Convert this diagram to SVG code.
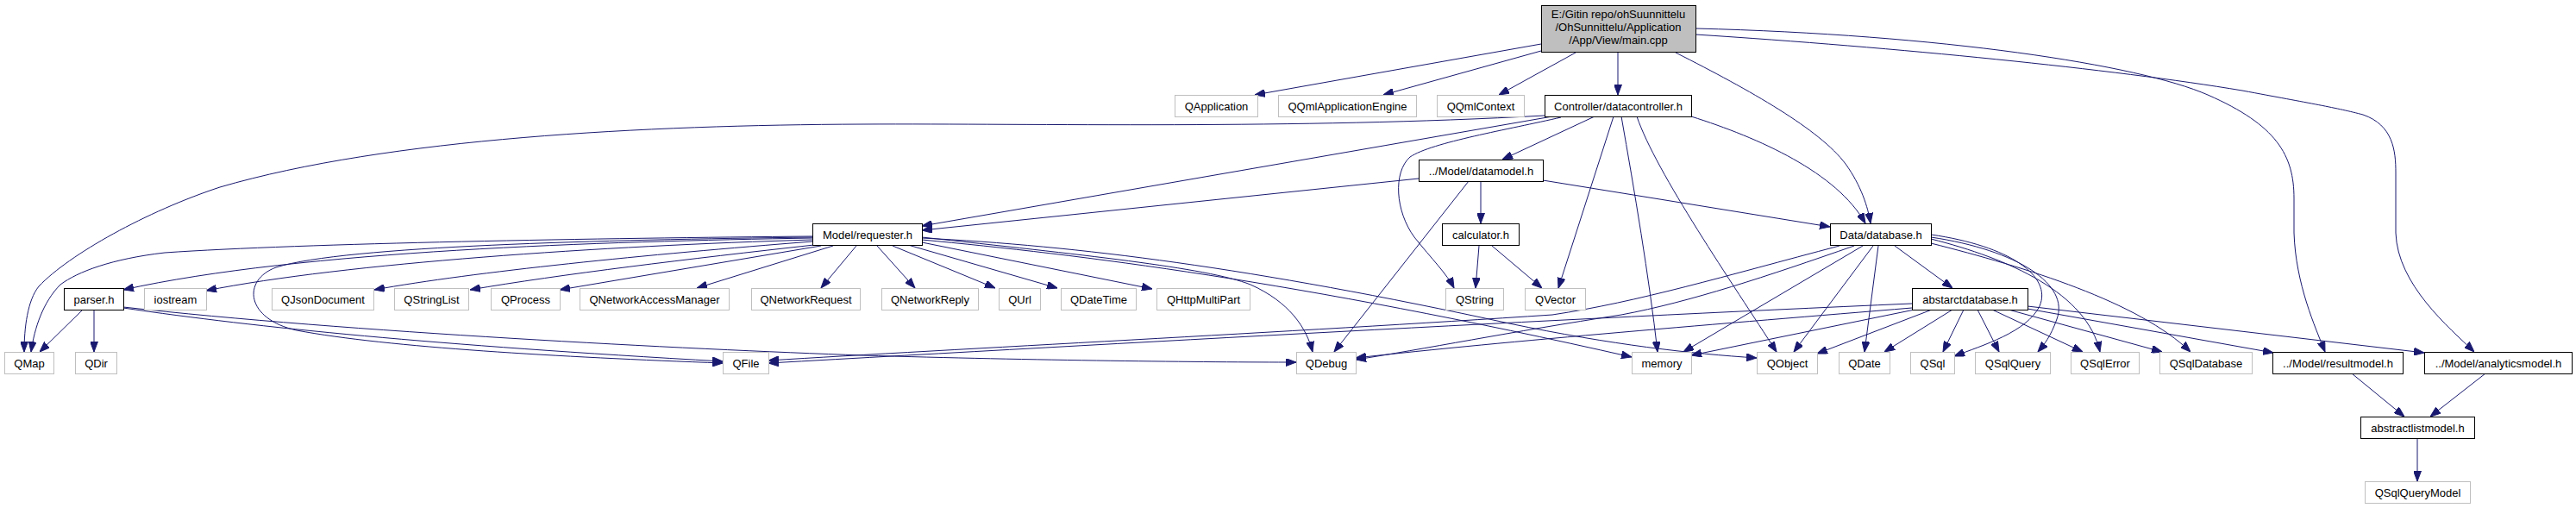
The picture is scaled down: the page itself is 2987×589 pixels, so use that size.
<svg xmlns="http://www.w3.org/2000/svg" width="2987" height="589" viewBox="0 0 2987 589">
<style>
text{font-family:"Liberation Sans",Arial,sans-serif;font-size:13px;fill:#000;text-anchor:middle}
.g rect{fill:#fff;stroke:#bfbfbf;stroke-width:1}
.b rect{fill:#fff;stroke:#000;stroke-width:1}
.m rect{fill:#bfbfbf;stroke:#000;stroke-width:1}
#edges path{fill:none;stroke:#191970;stroke-width:1;marker-end:url(#arr)}
</style>
<defs>
<marker id="arr" markerUnits="userSpaceOnUse" markerWidth="12" markerHeight="9" refX="12" refY="4.5" orient="auto">
<path d="M0,0 L12,4.5 L0,9 z" fill="#191970" stroke="#191970" stroke-width="1"/>
</marker>
</defs>
<rect width="2987" height="589" fill="#fff"/>
<g id="edges">
<path d="M1787,51 L1455,110"/>
<path d="M1787,59 L1604,110"/>
<path d="M1827,61 L1738,110"/>
<path d="M1876,61 L1876,110"/>
<path d="M1943,61 C2030,105 2110,150 2140,190 C2158,215 2166,240 2169,259"/>
<path d="M1966,33 C2250,40 2480,75 2560,110 C2640,145 2660,180 2660,230 L2660,270 C2662,330 2685,380 2696,408"/>
<path d="M1966,40 C2200,55 2450,80 2600,105 C2680,120 2710,125 2740,133 C2775,145 2778,175 2778,200 L2778,270 C2780,330 2840,380 2869,408"/>
<path d="M1791,134 C1500,150 1200,143 1000,144 C750,145 450,160 255,217 C170,245 80,295 45,332 C32,348 28,380 28,408"/>
<path d="M1800,135 L1069,262"/>
<path d="M1849,135 L1742,185"/>
<path d="M1810,136 C1750,150 1660,165 1635,182 C1615,200 1618,245 1640,275 C1660,300 1678,318 1686,334"/>
<path d="M1871,135 L1807,334"/>
<path d="M1880,135 C1895,220 1912,320 1922,408"/>
<path d="M1898,135 C1920,200 2010,330 2060,408"/>
<path d="M1961,135 C2040,160 2130,200 2163,259"/>
<path d="M1645,207 L1069,267"/>
<path d="M1703,210 L1547,408"/>
<path d="M1717,210 L1717,259"/>
<path d="M1789,209 L2122,263"/>
<path d="M1715,285 L1711,334"/>
<path d="M1730,285 L1788,334"/>
<path d="M942,274 C700,276 350,282 191,293 C130,300 90,315 70,330 C50,350 40,380 36,408"/>
<path d="M942,276 C700,280 350,290 143,336"/>
<path d="M942,278 C700,285 400,305 239,337"/>
<path d="M942,280 C750,295 550,315 434,336"/>
<path d="M944,284 C800,300 650,318 545,336"/>
<path d="M952,285 L649,336"/>
<path d="M966,285 L808,334"/>
<path d="M993,285 L952,334"/>
<path d="M1017,285 L1061,334"/>
<path d="M1035,285 L1154,334"/>
<path d="M1053,284 L1226,334"/>
<path d="M1069,281 L1336,335"/>
<path d="M1069,275 C1250,295 1400,310 1450,330 C1495,350 1515,380 1522,408"/>
<path d="M1069,278 C1250,295 1500,325 1892,414"/>
<path d="M1069,276 C1250,285 1450,310 1750,375 C1870,400 1960,410 2037,415"/>
<path d="M942,275 C700,278 400,285 320,310 C280,325 285,370 344,383 C450,403 650,414 838,421"/>
<path d="M96,359 L46,408"/>
<path d="M109,359 L109,408"/>
<path d="M143,357 C300,380 500,400 838,419"/>
<path d="M143,356 C400,385 800,405 1000,412 C1200,418 1400,420 1503,420"/>
<path d="M2133,285 C2000,320 1900,350 1800,365 C1500,385 1100,405 891,418"/>
<path d="M2150,285 C2050,320 1960,350 1880,365 C1750,385 1650,405 1572,417"/>
<path d="M2160,285 L1952,408"/>
<path d="M2172,285 L2080,408"/>
<path d="M2178,285 L2162,408"/>
<path d="M2197,285 L2264,334"/>
<path d="M2239,272 C2330,285 2380,320 2365,355 C2350,385 2300,400 2266,413"/>
<path d="M2239,275 C2340,290 2400,330 2385,370 C2378,390 2370,400 2363,408"/>
<path d="M2239,277 C2330,300 2420,340 2435,408"/>
<path d="M2239,282 C2350,310 2480,350 2540,408"/>
<path d="M2217,352 C1800,370 1300,398 891,421"/>
<path d="M2217,357 C2000,375 1750,395 1572,415"/>
<path d="M2220,359 L1961,412"/>
<path d="M2240,359 L2107,410"/>
<path d="M2264,359 L2185,408"/>
<path d="M2277,359 L2253,408"/>
<path d="M2293,359 L2318,408"/>
<path d="M2310,359 L2415,408"/>
<path d="M2329,359 L2507,408"/>
<path d="M2351,358 L2636,409"/>
<path d="M2351,355 L2811,409"/>
<path d="M2727,433 L2788,483"/>
<path d="M2882,433 L2818,483"/>
<path d="M2803,508 L2803,558"/>
</g>
<g id="main" class="m"><rect x="1787.5" y="6.5" width="179" height="54"/><text x="1876.5" y="21">E:/Gitin repo/ohSuunnittelu</text><text x="1876.5" y="36">/OhSunnittelu/Application</text><text x="1876.5" y="51">/App/View/main.cpp</text></g>
<g id="QApplication" class="g"><rect x="1362.5" y="110.5" width="96" height="25"/><text x="1410.5" y="127.5">QApplication</text></g>
<g id="QQmlApplicationEngine" class="g"><rect x="1482.5" y="110.5" width="160" height="25"/><text x="1562.5" y="127.5">QQmlApplicationEngine</text></g>
<g id="QQmlContext" class="g"><rect x="1666.5" y="110.5" width="101" height="25"/><text x="1717" y="127.5">QQmlContext</text></g>
<g id="datacontroller" class="b"><rect x="1791.5" y="110.5" width="170" height="25"/><text x="1876.5" y="127.5">Controller/datacontroller.h</text></g>
<g id="datamodel" class="b"><rect x="1645.5" y="185.5" width="144" height="25"/><text x="1717.5" y="202.5">../Model/datamodel.h</text></g>
<g id="requester" class="b"><rect x="942.5" y="259.5" width="127" height="25"/><text x="1006" y="276.5">Model/requester.h</text></g>
<g id="calculator" class="b"><rect x="1672.5" y="259.5" width="89" height="25"/><text x="1717" y="276.5">calculator.h</text></g>
<g id="database" class="b"><rect x="2122.5" y="259.5" width="117" height="25"/><text x="2181" y="276.5">Data/database.h</text></g>
<g id="parser" class="b"><rect x="74.5" y="334.5" width="69" height="25"/><text x="109" y="351.5">parser.h</text></g>
<g id="iostream" class="g"><rect x="167.5" y="334.5" width="72" height="25"/><text x="203.5" y="351.5">iostream</text></g>
<g id="QJsonDocument" class="g"><rect x="315.5" y="334.5" width="118" height="25"/><text x="374.5" y="351.5">QJsonDocument</text></g>
<g id="QStringList" class="g"><rect x="457.5" y="334.5" width="86" height="25"/><text x="500.5" y="351.5">QStringList</text></g>
<g id="QProcess" class="g"><rect x="569.5" y="334.5" width="80" height="25"/><text x="609.5" y="351.5">QProcess</text></g>
<g id="QNetworkAccessManager" class="g"><rect x="672.5" y="334.5" width="173" height="25"/><text x="759" y="351.5">QNetworkAccessManager</text></g>
<g id="QNetworkRequest" class="g"><rect x="871.5" y="334.5" width="126" height="25"/><text x="934.5" y="351.5">QNetworkRequest</text></g>
<g id="QNetworkReply" class="g"><rect x="1022.5" y="334.5" width="112" height="25"/><text x="1078.5" y="351.5">QNetworkReply</text></g>
<g id="QUrl" class="g"><rect x="1158.5" y="334.5" width="48" height="25"/><text x="1182.5" y="351.5">QUrl</text></g>
<g id="QDateTime" class="g"><rect x="1230.5" y="334.5" width="87" height="25"/><text x="1274" y="351.5">QDateTime</text></g>
<g id="QHttpMultiPart" class="g"><rect x="1341.5" y="334.5" width="108" height="25"/><text x="1395.5" y="351.5">QHttpMultiPart</text></g>
<g id="QString" class="g"><rect x="1676.5" y="334.5" width="67" height="25"/><text x="1710" y="351.5">QString</text></g>
<g id="QVector" class="g"><rect x="1768.5" y="334.5" width="70" height="25"/><text x="1803.5" y="351.5">QVector</text></g>
<g id="abstarctdatabase" class="b"><rect x="2217.5" y="334.5" width="134" height="25"/><text x="2284.5" y="351.5">abstarctdatabase.h</text></g>
<g id="QMap" class="g"><rect x="5.5" y="408.5" width="57" height="25"/><text x="34" y="425.5">QMap</text></g>
<g id="QDir" class="g"><rect x="87.5" y="408.5" width="48" height="25"/><text x="111.5" y="425.5">QDir</text></g>
<g id="QFile" class="g"><rect x="838.5" y="408.5" width="53" height="25"/><text x="865" y="425.5">QFile</text></g>
<g id="QDebug" class="g"><rect x="1503.5" y="408.5" width="69" height="25"/><text x="1538" y="425.5">QDebug</text></g>
<g id="memory" class="g"><rect x="1892.5" y="408.5" width="69" height="25"/><text x="1927" y="425.5">memory</text></g>
<g id="QObject" class="g"><rect x="2037.5" y="408.5" width="70" height="25"/><text x="2072.5" y="425.5">QObject</text></g>
<g id="QDate" class="g"><rect x="2132.5" y="408.5" width="59" height="25"/><text x="2162" y="425.5">QDate</text></g>
<g id="QSql" class="g"><rect x="2215.5" y="408.5" width="51" height="25"/><text x="2241" y="425.5">QSql</text></g>
<g id="QSqlQuery" class="g"><rect x="2290.5" y="408.5" width="87" height="25"/><text x="2334" y="425.5">QSqlQuery</text></g>
<g id="QSqlError" class="g"><rect x="2401.5" y="408.5" width="79" height="25"/><text x="2441" y="425.5">QSqlError</text></g>
<g id="QSqlDatabase" class="g"><rect x="2504.5" y="408.5" width="107" height="25"/><text x="2558" y="425.5">QSqlDatabase</text></g>
<g id="resultmodel" class="b"><rect x="2635.5" y="408.5" width="151" height="25"/><text x="2711" y="425.5">../Model/resultmodel.h</text></g>
<g id="analyticsmodel" class="b"><rect x="2811.5" y="408.5" width="171" height="25"/><text x="2897" y="425.5">../Model/analyticsmodel.h</text></g>
<g id="abstractlistmodel" class="b"><rect x="2737.5" y="483.5" width="132" height="25"/><text x="2803.5" y="500.5">abstractlistmodel.h</text></g>
<g id="QSqlQueryModel" class="g"><rect x="2742.5" y="558.5" width="122" height="25"/><text x="2803.5" y="575.5">QSqlQueryModel</text></g>
</svg>
